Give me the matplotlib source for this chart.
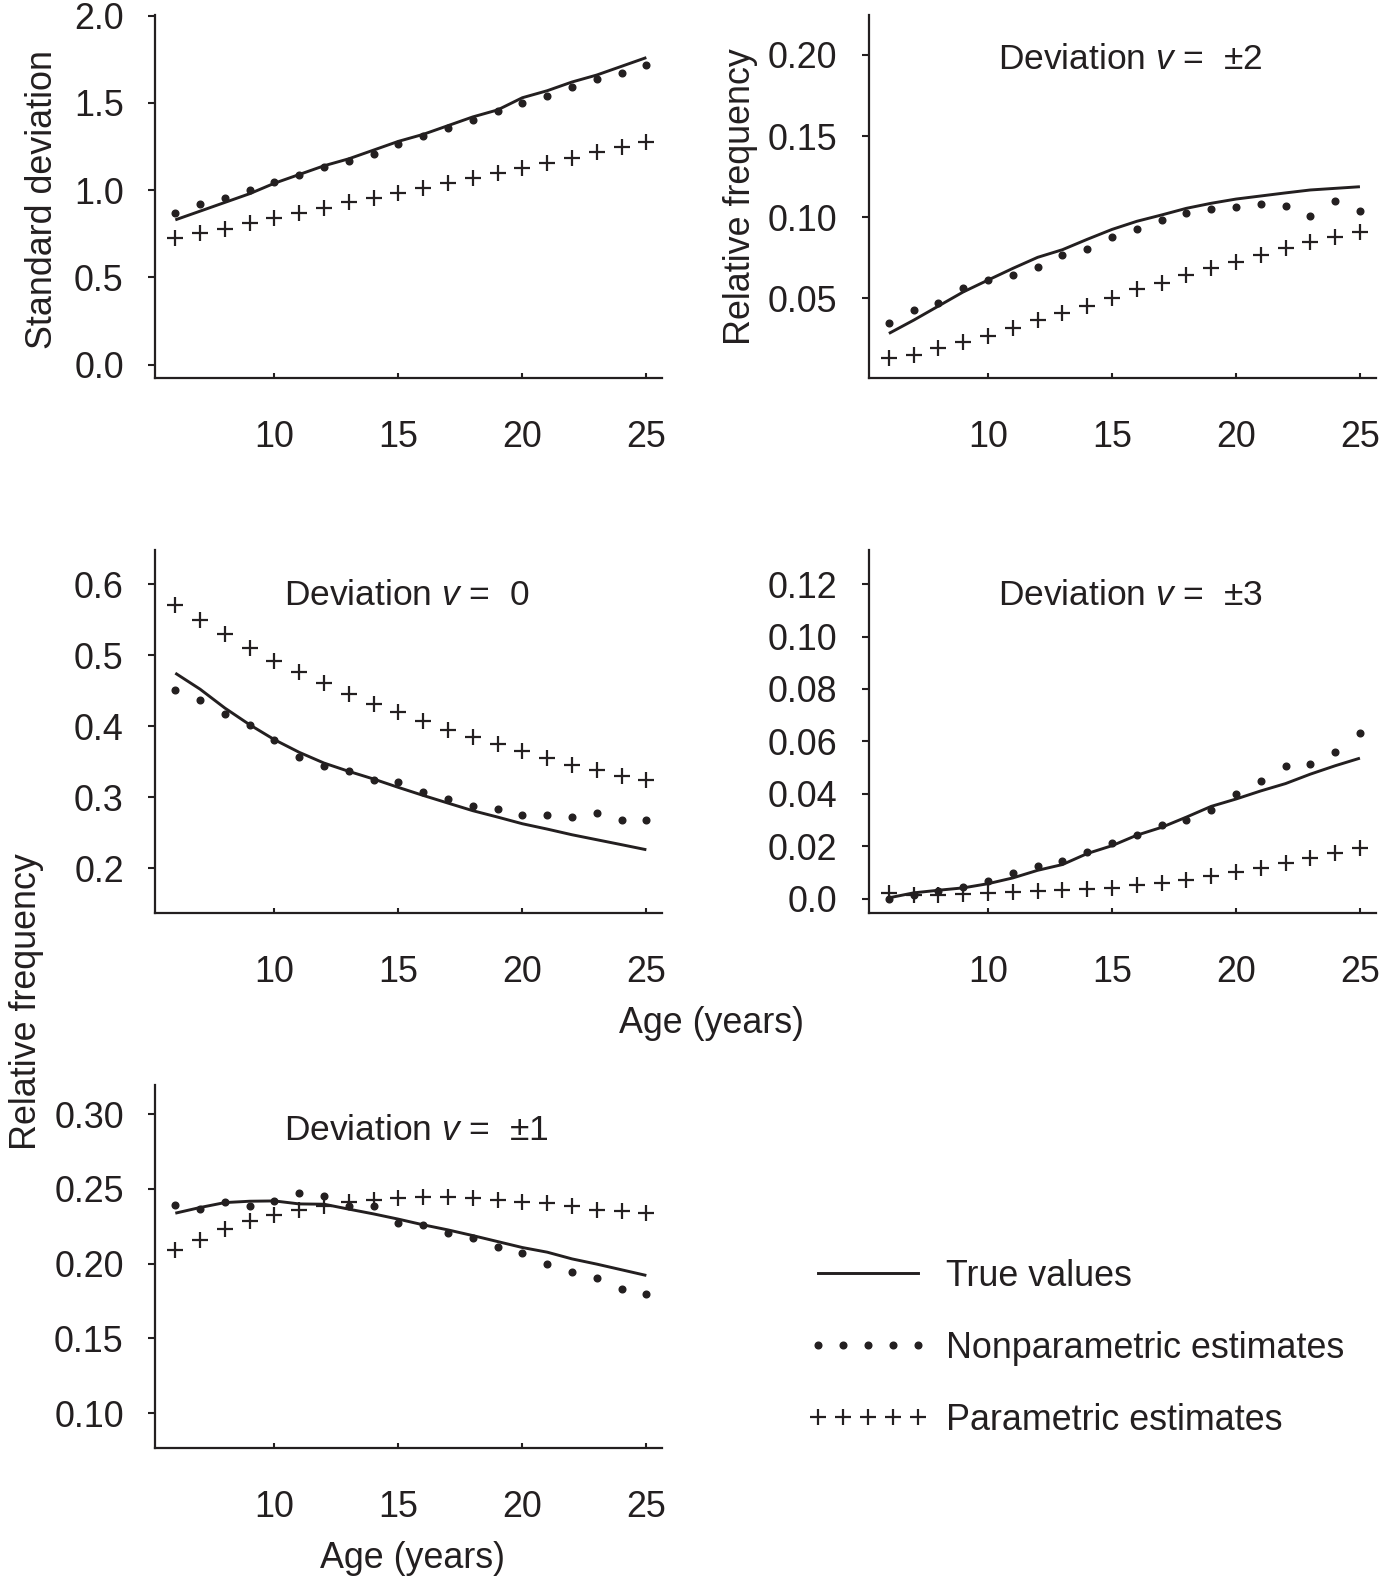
import matplotlib
matplotlib.use("Agg")
import matplotlib.pyplot as plt
from matplotlib.lines import Line2D
from matplotlib.legend_handler import HandlerLine2D

plt.rcParams['font.family'] = ['Liberation Sans', 'DejaVu Sans']
plt.rcParams['mathtext.fontset'] = 'custom'
plt.rcParams['mathtext.rm'] = 'Liberation Sans'
plt.rcParams['mathtext.it'] = 'Liberation Sans:italic'

ink = '#231f20'
fs = 25.8

ages = list(range(6, 26))
age_ticks = [10, 15, 20, 25]

# standard deviation
sd_true = [0.83, 0.88, 0.93, 0.98, 1.04, 1.09, 1.14, 1.18, 1.23, 1.28,
           1.32, 1.37, 1.42, 1.46, 1.53, 1.57, 1.62, 1.66, 1.71, 1.76]
sd_nonpar = [0.869, 0.919, 0.957, 1.003, 1.045, 1.089, 1.131, 1.167, 1.209, 1.265,
             1.312, 1.356, 1.404, 1.452, 1.500, 1.538, 1.593, 1.637, 1.673, 1.717]
sd_par = [0.724, 0.753, 0.779, 0.812, 0.840, 0.869, 0.900, 0.930, 0.955, 0.982,
          1.010, 1.043, 1.070, 1.098, 1.127, 1.158, 1.186, 1.217, 1.245, 1.274]

# deviation +-2
d2_true = [0.0284, 0.0366, 0.0453, 0.0540, 0.0613, 0.0685, 0.0753, 0.0800, 0.0864, 0.0925,
           0.0975, 0.1014, 0.1055, 0.1086, 0.1112, 0.1131, 0.1150, 0.1168, 0.1178, 0.1188]
d2_nonpar = [0.0346, 0.0428, 0.0473, 0.0562, 0.0613, 0.0642, 0.0691, 0.0767, 0.0802, 0.0880,
             0.0925, 0.0981, 0.1028, 0.1051, 0.1061, 0.1079, 0.1069, 0.1010, 0.1102, 0.1038]
d2_par = [0.0134, 0.0151, 0.0192, 0.0229, 0.0270, 0.0315, 0.0366, 0.0408, 0.0455, 0.0504,
          0.0555, 0.0592, 0.0644, 0.0685, 0.0726, 0.0767, 0.0808, 0.0845, 0.0876, 0.0907]

# deviation 0
d0_true = [0.4746, 0.4520, 0.4254, 0.4019, 0.3808, 0.3630, 0.3479, 0.3362, 0.3254, 0.3136,
           0.3023, 0.2915, 0.2808, 0.2718, 0.2624, 0.2549, 0.2469, 0.2399, 0.2329, 0.2258]
d0_nonpar = [0.4512, 0.4370, 0.4174, 0.4009, 0.3798, 0.3563, 0.3441, 0.3371, 0.3244, 0.3211,
             0.3070, 0.2977, 0.2878, 0.2831, 0.2751, 0.2751, 0.2714, 0.2775, 0.2671, 0.2671]
d0_par = [0.5709, 0.5488, 0.5296, 0.5099, 0.4920, 0.4756, 0.4606, 0.4451, 0.4315, 0.4192,
          0.4066, 0.3948, 0.3845, 0.3746, 0.3643, 0.3549, 0.3455, 0.3376, 0.3300, 0.3235]

# deviation +-3
d3_true = [0.0003, 0.0022, 0.0032, 0.0041, 0.0057, 0.0079, 0.0108, 0.0130, 0.0172, 0.0202,
           0.0242, 0.0272, 0.0311, 0.0352, 0.0380, 0.0411, 0.0439, 0.0475, 0.0507, 0.0536]
d3_nonpar = [0.0000, 0.0015, 0.0030, 0.0043, 0.0066, 0.0098, 0.0126, 0.0142, 0.0177, 0.0212,
             0.0244, 0.0282, 0.0301, 0.0337, 0.0400, 0.0447, 0.0505, 0.0514, 0.0558, 0.0632]
d3_par = [0.0022, 0.0015, 0.0015, 0.0018, 0.0022, 0.0024, 0.0028, 0.0032, 0.0037, 0.0041,
          0.0051, 0.0060, 0.0072, 0.0088, 0.0102, 0.0117, 0.0136, 0.0155, 0.0174, 0.0193]

# deviation +-1
d1_true = [0.2338, 0.2376, 0.2409, 0.2418, 0.2420, 0.2400, 0.2398, 0.2365, 0.2333, 0.2298,
           0.2260, 0.2226, 0.2188, 0.2148, 0.2108, 0.2077, 0.2032, 0.1997, 0.1959, 0.1921]
d1_nonpar = [0.2394, 0.2367, 0.2416, 0.2387, 0.2420, 0.2472, 0.2456, 0.2389, 0.2387, 0.2271,
             0.2260, 0.2204, 0.2171, 0.2110, 0.2070, 0.1997, 0.1943, 0.1903, 0.1829, 0.1796]
d1_par = [0.2093, 0.2159, 0.2231, 0.2287, 0.2327, 0.2360, 0.2389, 0.2416, 0.2427, 0.2438,
          0.2443, 0.2443, 0.2438, 0.2427, 0.2416, 0.2405, 0.2389, 0.2360, 0.2353, 0.2342]

fig = plt.figure(figsize=(13.97, 15.78), dpi=100)

W = 0.3629
H = 0.2300
panels = [
    # position, true, nonpar, par, ylim, yticks, yticklabels, title
    ([0.1113, 0.7606, W, H], sd_true, sd_nonpar, sd_par, (-0.075, 2.005),
     [0.0, 0.5, 1.0, 1.5, 2.0], ['0.0', '0.5', '1.0', '1.5', '2.0'], None),
    ([0.6221, 0.7606, W, H], d2_true, d2_nonpar, d2_par, (0.0011, 0.2247),
     [0.05, 0.10, 0.15, 0.20], ['0.05', '0.10', '0.15', '0.20'], r'Deviation $v$ =  ±2'),
    ([0.1113, 0.4214, W, H], d0_true, d0_nonpar, d0_par, (0.1366, 0.648),
     [0.2, 0.3, 0.4, 0.5, 0.6], ['0.2', '0.3', '0.4', '0.5', '0.6'], r'Deviation $v$ =  0'),
    ([0.6221, 0.4214, W, H], d3_true, d3_nonpar, d3_par, (-0.0055, 0.133),
     [0.0, 0.02, 0.04, 0.06, 0.08, 0.10, 0.12],
     ['0.0', '0.02', '0.04', '0.06', '0.08', '0.10', '0.12'], r'Deviation $v$ =  ±3'),
    ([0.1113, 0.0824, W, H], d1_true, d1_nonpar, d1_par, (0.0766, 0.3196),
     [0.10, 0.15, 0.20, 0.25, 0.30], ['0.10', '0.15', '0.20', '0.25', '0.30'], r'Deviation $v$ =  ±1'),
]

axes = []
for pos, tv, npv, pv, ylim, yt, ytl, title in panels:
    ax = fig.add_axes(pos)
    ax.plot(ages, tv, color=ink, lw=2.1, solid_capstyle='butt')
    ax.plot(ages, npv, ls='none', marker='o', ms=4.8, color=ink)
    ax.plot(ages, pv, ls='none', marker='+', ms=12, mew=1.6, color=ink)
    ax.set_xlim(5.2, 25.65)
    ax.set_ylim(*ylim)
    ax.set_xticks(age_ticks)
    ax.set_xticklabels([str(a) for a in age_ticks])
    ax.set_yticks(yt)
    ax.set_yticklabels(ytl)
    for s in ['top', 'right']:
        ax.spines[s].set_visible(False)
    for s in ['left', 'bottom']:
        ax.spines[s].set_linewidth(1.6)
        ax.spines[s].set_color(ink)
    ax.tick_params(axis='y', direction='out', length=4.8, width=1.5, pad=18,
                   labelsize=fs, colors=ink)
    ax.tick_params(axis='x', direction='in', length=3.5, width=1.5, pad=30.5,
                   labelsize=fs, colors=ink)
    if title:
        ax.text(0.254, 0.876, title, transform=ax.transAxes, ha='left', va='center',
                fontsize=fs - 0.3, color=ink)
    axes.append(ax)

axes[0].set_ylabel('Standard deviation', fontsize=fs, color=ink)
axes[0].yaxis.set_label_coords(-0.189, 0.49)
axes[1].set_ylabel('Relative frequency', fontsize=fs, color=ink)
axes[1].yaxis.set_label_coords(-0.220, 0.5)

fig.text(27 / 1397, 1 - 1002 / 1578, 'Relative frequency', rotation=90,
         ha='center', va='center', fontsize=fs, color=ink)
fig.text(711.6 / 1397, 1 - 1023.6 / 1578, 'Age (years)', ha='center', va='center',
         fontsize=fs, color=ink)
fig.text(412.7 / 1397, 1 - 1559 / 1578, 'Age (years)', ha='center', va='center',
         fontsize=fs, color=ink)

h_true = Line2D([], [], color=ink, lw=2.1)
h_np = Line2D([], [], ls='none', marker='o', ms=4.8, color=ink)
h_p = Line2D([], [], ls='none', marker='+', ms=12, mew=1.6, color=ink)
fig.legend([h_true, h_np, h_p],
           ['True values', 'Nonparametric estimates', 'Parametric estimates'],
           loc='upper left', bbox_to_anchor=(818 / 1397, 1 - 1259 / 1578),
           frameon=False, fontsize=fs, handlelength=2.8, handletextpad=0.78,
           labelspacing=1.03, borderpad=0, borderaxespad=0,
           handler_map={h_np: HandlerLine2D(marker_pad=0, numpoints=5),
                        h_p: HandlerLine2D(marker_pad=0, numpoints=5)},
           labelcolor=ink)

fig.savefig('out.png', dpi=100)
